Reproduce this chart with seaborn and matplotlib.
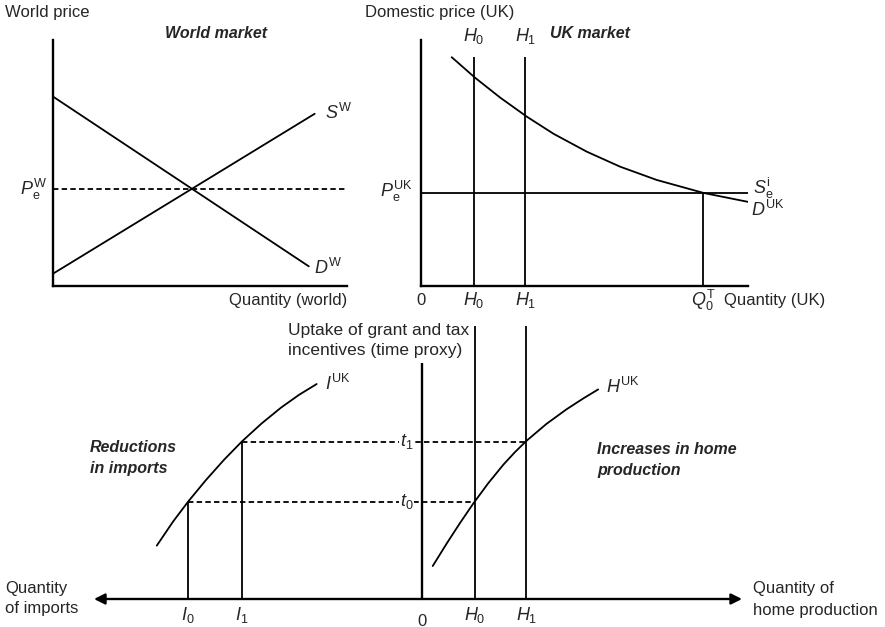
import numpy as np
import pandas as pd
import matplotlib
matplotlib.use("Agg")
import matplotlib.pyplot as plt
import seaborn as sns

# World market (straight lines, read as end points)
world_demand_x = [0.0, 8.7]
world_demand_y = [7.7, 0.8]
world_supply_x = [0.0, 8.9]
world_supply_y = [0.5, 7.0]
world_price = 3.95

# UK market
uk_demand_x = [0.94, 1.65, 2.42, 3.24, 4.05, 5.07, 6.09, 7.21, 8.65, 10.0]
uk_demand_y = [9.30, 8.47, 7.66, 6.88, 6.19, 5.46, 4.85, 4.31, 3.78, 3.42]
uk_price = 3.80
q0_total = 8.63
h_levels = [1.62, 3.19]          # H0, H1
h_top_uk = 9.3

# Bottom panel: imports (negative side) and home production (positive side)
imports_x = [-8.11, -7.61, -7.15, -6.61, -6.06, -5.51, -4.91, -4.31, -3.76, -3.22]
imports_y = [2.17, 3.15, 3.96, 4.83, 5.65, 6.40, 7.13, 7.78, 8.30, 8.74]
home_x = [0.33, 0.75, 1.16, 1.57, 2.03, 2.49, 2.83, 3.18, 3.81, 4.42, 4.93, 5.39]
home_y = [1.34, 2.24, 3.08, 3.88, 4.71, 5.46, 5.95, 6.41, 7.12, 7.71, 8.15, 8.52]
i_levels = [-7.15, -5.51]        # I0, I1
t_levels = [3.96, 6.40]          # t0, t1
uptake_axis_top = 9.59
h_top_bottom = 11.1

sns.set_style("white")
plt.rcParams["font.family"] = ["Liberation Sans", "DejaVu Sans"]
plt.rcParams["mathtext.fontset"] = "custom"
plt.rcParams["mathtext.rm"] = "Liberation Sans"
plt.rcParams["mathtext.it"] = "Liberation Sans:italic"
plt.rcParams["mathtext.bf"] = "Liberation Sans:bold"

W, H = 885, 627
fig = plt.figure(figsize=(W / 100, H / 100), dpi=100)


def box(l, t, r, b):
    return [l / W, 1 - b / H, (r - l) / W, (b - t) / H]


def ftext(x, y, s, **kw):
    kw.setdefault("fontsize", 12)
    kw.setdefault("va", "center")
    fig.text(x / W, 1 - y / H, s, **kw)


LW = 1.3
AX_LW = 1.7
DASH = (0, (3.0, 1.8))
bi = dict(fontweight="bold", fontstyle="italic", fontsize=11.5)


def style_axes(ax, xlim, ylim, spines=True):
    ax.set_xlim(*xlim)
    ax.set_ylim(*ylim)
    ax.set_xticks([])
    ax.set_yticks([])
    ax.set_xlabel("")
    ax.set_ylabel("")
    ax.patch.set_alpha(0)
    for side in ["top", "right"]:
        ax.spines[side].set_visible(False)
    for side in ["left", "bottom"]:
        ax.spines[side].set_visible(spines)
        ax.spines[side].set_color("black")
        ax.spines[side].set_linewidth(AX_LW)


# ---- World market ----
ax1 = fig.add_axes(box(53, 40, 347, 286))
sns.lineplot(x=world_demand_x, y=world_demand_y, color="black", lw=LW, ax=ax1)
sns.lineplot(x=world_supply_x, y=world_supply_y, color="black", lw=LW, ax=ax1)
ax1.axhline(world_price, color="black", lw=LW, ls=DASH)
style_axes(ax1, (0, 10), (0, 10))

ftext(5, 12, "World price")
ftext(216, 33, "World market", ha="center", **bi)
ftext(325, 113, r"$S^{\mathrm{W}}$", fontsize=13)
ftext(314, 268, r"$D^{\mathrm{W}}$", fontsize=13)
ftext(47, 189, r"$P_{\mathrm{e}}^{\mathrm{W}}$", ha="right", fontsize=13)
ftext(347, 300, "Quantity (world)", ha="right")

# ---- UK market ----
ax2 = fig.add_axes(box(421, 40, 748, 286))
uk = pd.DataFrame({"q": uk_demand_x, "p": uk_demand_y})
sns.lineplot(data=uk, x="q", y="p", color="black", lw=LW, sort=False, ax=ax2)
ax2.axhline(uk_price, color="black", lw=LW)
ax2.vlines(h_levels, 0, h_top_uk, color="black", lw=LW)
ax2.vlines(q0_total, 0, uk_price, color="black", lw=LW)
style_axes(ax2, (0, 10), (0, 10))

ftext(365, 12, "Domestic price (UK)")
ftext(550, 34, "UK market", **bi)
for hx, lab in zip(h_levels, ["0", "1"]):
    px = 421 + hx * 32.7
    ftext(px, 36, rf"$H_{lab}$", ha="center", fontsize=13)
    ftext(px, 300, rf"$H_{lab}$", ha="center", fontsize=13)
ftext(413, 191, r"$P_{\mathrm{e}}^{\mathrm{UK}}$", ha="right", fontsize=13)
ftext(753, 188, r"$S_{\mathrm{e}}^{\mathrm{i}}$", fontsize=13)
ftext(751, 210, r"$D^{\mathrm{UK}}$", fontsize=13)
ftext(421, 300, "0", ha="center")
ftext(421 + q0_total * 32.7, 300, r"$Q_0^{\mathrm{T}}$", ha="center", fontsize=13)
ftext(724, 300, "Quantity (UK)")

# ---- Bottom: uptake of incentives ----
ax3 = fig.add_axes(box(94, 325, 742, 599))
xmin, xmax = -10.03, 9.79
sns.lineplot(x=imports_x, y=imports_y, color="black", lw=LW, sort=False, ax=ax3)
sns.lineplot(x=home_x, y=home_y, color="black", lw=LW, sort=False, ax=ax3)
ax3.vlines(0, 0, uptake_axis_top, color="black", lw=AX_LW)
ax3.vlines(h_levels, 0, h_top_bottom, color="black", lw=LW)
for ix, iy in zip(i_levels, t_levels):
    ax3.vlines(ix, 0, iy, color="black", lw=LW)
for ix, hx, ty in zip(i_levels, h_levels, t_levels):
    ax3.hlines(ty, ix, hx, color="black", lw=LW, linestyles=DASH)
for tx, ty in zip(["0", "1"], t_levels):
    ax3.text(-0.47, ty, rf"$t_{tx}$", ha="center", va="center", fontsize=13,
             bbox=dict(facecolor="white", edgecolor="none", pad=0.5))
arrow = dict(arrowstyle="-|>", color="black", lw=AX_LW, mutation_scale=16,
             shrinkA=0, shrinkB=0)
ax3.annotate("", xy=(xmin, 0), xytext=(0, 0), arrowprops=arrow, annotation_clip=False)
ax3.annotate("", xy=(xmax, 0), xytext=(0, 0), arrowprops=arrow, annotation_clip=False)
style_axes(ax3, (xmin, xmax), (0, 11.14), spines=False)

ftext(288, 330, "Uptake of grant and tax", fontsize=12.5)
ftext(288, 350, "incentives (time proxy)", fontsize=12.5)
ftext(325, 384, r"$I^{\mathrm{UK}}$", fontsize=13)
ftext(606, 387, r"$H^{\mathrm{UK}}$", fontsize=13)
ftext(90, 448, "Reductions", **bi)
ftext(90, 469, "in imports", **bi)
ftext(597, 450, "Increases in home", **bi)
ftext(597, 470, "production", **bi)
ftext(5, 588, "Quantity")
ftext(5, 609, "of imports")
ftext(753, 588, "Quantity of")
ftext(753, 610, "home production")
for ix, lab in zip(i_levels, ["0", "1"]):
    ftext(422 + ix * 32.7, 615, rf"$I_{lab}$", ha="center", fontsize=13)
for hx, lab in zip(h_levels, ["0", "1"]):
    ftext(422 + hx * 32.7, 615, rf"$H_{lab}$", ha="center", fontsize=13)
ftext(422, 621, "0", ha="center")

fig.savefig("out.png", dpi=100)
